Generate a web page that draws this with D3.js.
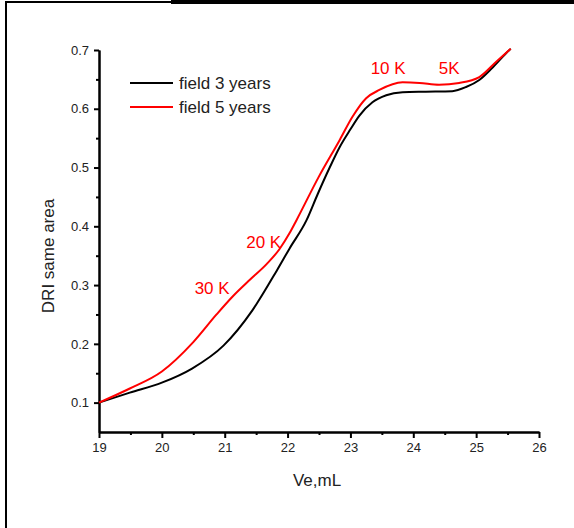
<!DOCTYPE html>
<html><head><meta charset="utf-8">
<script src="https://cdn.jsdelivr.net/npm/d3@7"></script>
<style>
body{margin:0;background:#fff;}
svg{display:block;font-family:"Liberation Sans",Arial,sans-serif;}
</style></head>
<body><svg id="c" width="574" height="528"></svg>
<script>
const xMajor = [19, 20, 21, 22, 23, 24, 25, 26];
const xMinor = [19.5, 20.5, 21.5, 22.5, 23.5, 24.5, 25.5];
const yMajor = [0.1, 0.2, 0.3, 0.4, 0.5, 0.6, 0.7];
const yMinor = [0.15, 0.25, 0.35, 0.45, 0.55, 0.65];

const seriesNames = ["field 3 years", "field 5 years"];
const seriesColors = ["#000000", "#ff0000"];

const field3x = [19, 19.49, 20, 20.48, 20.98, 21.44, 21.83, 22.03, 22.3, 22.48, 22.67, 22.83, 23.0, 23.14, 23.35, 23.57, 23.83, 24.2, 24.62, 24.84, 25.05, 25.25, 25.48, 25.55];
const field3y = [0.1, 0.117, 0.134, 0.158, 0.197, 0.257, 0.325, 0.362, 0.41, 0.455, 0.5, 0.535, 0.565, 0.588, 0.611, 0.623, 0.628, 0.629, 0.63, 0.637, 0.649, 0.669, 0.695, 0.702];

const field5x = [19, 19.49, 20, 20.5, 20.87, 21.13, 21.4, 21.67, 21.87, 22.03, 22.14, 22.5, 22.83, 23.03, 23.25, 23.46, 23.83, 24.1, 24.41, 24.73, 25.05, 25.32, 25.55];
const field5y = [0.1, 0.124, 0.153, 0.203, 0.25, 0.281, 0.309, 0.336, 0.361, 0.388, 0.41, 0.485, 0.547, 0.586, 0.618, 0.632, 0.645, 0.644, 0.641, 0.644, 0.654, 0.68, 0.702];

const annotations = ["30 K", "20 K", "10 K", "5K"];
const annotX = [20.8, 21.62, 23.6, 24.57];
const annotY = [0.284, 0.363, 0.66, 0.66];

const svg = d3.select("#c");

// frame (cropped figure border)
svg.append("rect").attr("x", 5).attr("y", 2).attr("width", 2).attr("height", 526).attr("fill", "#000");
svg.append("rect").attr("x", 5).attr("y", 1).attr("width", 170).attr("height", 2).attr("fill", "#000");
svg.append("rect").attr("x", 171).attr("y", 0).attr("width", 403).attr("height", 4).attr("fill", "#000");

const x = d3.scaleLinear().domain([19, 26]).range([99, 539]);
const y = d3.scaleLinear().domain([0.05, 0.7]).range([432, 50]);

function styleAxis(g){
  g.selectAll("path.domain").attr("stroke", "#000").attr("stroke-width", 2);
  g.selectAll(".tick line").attr("stroke", "#000").attr("stroke-width", 2);
  g.selectAll(".tick text").attr("fill", "#222").style("font-size", "13px").style("font-family", "Liberation Sans, Arial, sans-serif");
}

// x axis
const gx = svg.append("g").attr("transform", "translate(0,432)")
  .call(d3.axisBottom(x).tickValues(xMajor).tickFormat(d3.format("d")).tickSize(6).tickSizeOuter(0).tickPadding(5));
styleAxis(gx);
const gxm = svg.append("g").attr("transform", "translate(0,432)")
  .call(d3.axisBottom(x).tickValues(xMinor).tickFormat("").tickSize(3).tickSizeOuter(0));
styleAxis(gxm);

// y axis
const gy = svg.append("g").attr("transform", "translate(99,0)")
  .call(d3.axisLeft(y).tickValues(yMajor).tickFormat(d3.format(".1f")).tickSize(5).tickSizeOuter(0).tickPadding(5));
styleAxis(gy);
const gym = svg.append("g").attr("transform", "translate(99,0)")
  .call(d3.axisLeft(y).tickValues(yMinor).tickFormat("").tickSize(3).tickSizeOuter(0));
styleAxis(gym);

// axis titles
svg.append("text").attr("x", 317).attr("y", 486).attr("text-anchor", "middle")
  .style("font-size", "17px").attr("fill", "#222").text("Ve,mL");
svg.append("text").attr("transform", "translate(54,256) rotate(-90)").attr("text-anchor", "middle")
  .style("font-size", "17px").attr("fill", "#222").text("DRI same area");

// lines
const line = d3.line().x(d => x(d[0])).y(d => y(d[1])).curve(d3.curveMonotoneX);
const data = [d3.zip(field3x, field3y), d3.zip(field5x, field5y)];
data.forEach((d, i) => {
  svg.append("path").datum(d).attr("d", line).attr("fill", "none")
    .attr("stroke", seriesColors[i]).attr("stroke-width", 2);
});

// legend
seriesNames.forEach((n, i) => {
  const ly = 83 + i * 24;
  svg.append("line").attr("x1", 130).attr("x2", 173).attr("y1", ly).attr("y2", ly)
    .attr("stroke", seriesColors[i]).attr("stroke-width", 2);
  svg.append("text").attr("x", 179).attr("y", ly + 6).style("font-size", "17px").attr("fill", "#222").text(n);
});

// annotations
annotations.forEach((t, i) => {
  svg.append("text").attr("x", x(annotX[i])).attr("y", y(annotY[i])).attr("text-anchor", "middle")
    .style("font-size", "17px").attr("fill", "#ff0000").text(t);
});
</script>
</body></html>
